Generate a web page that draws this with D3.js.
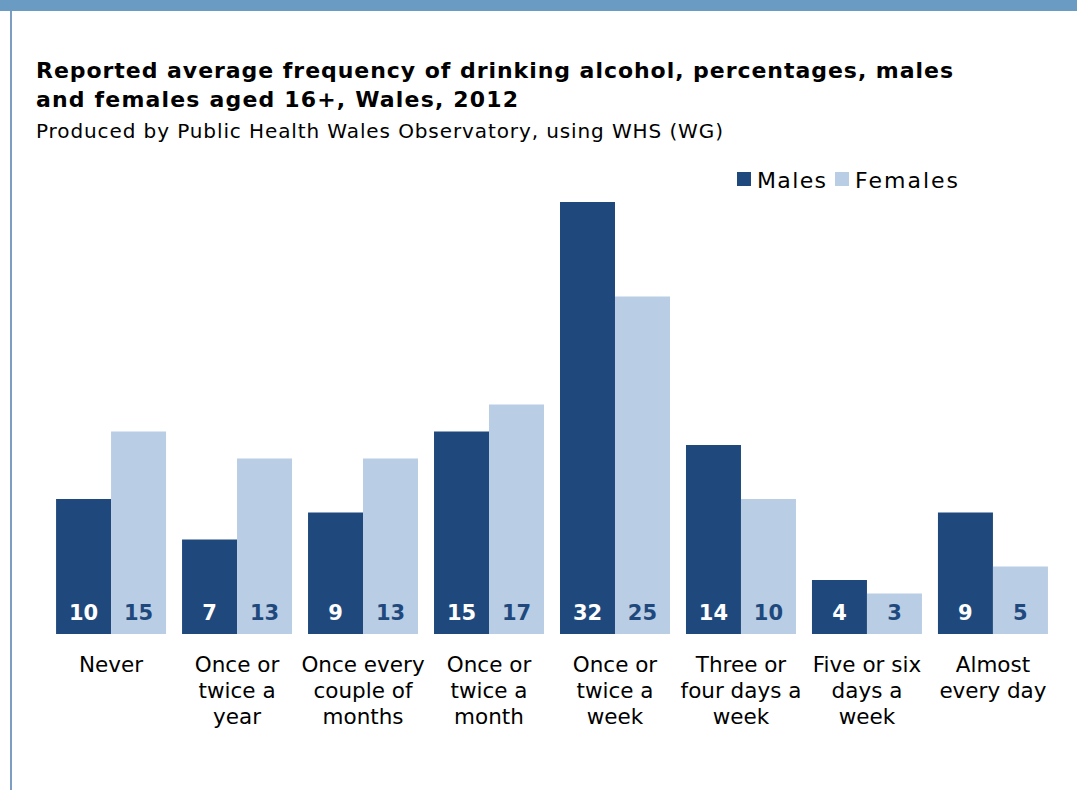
<!DOCTYPE html>
<html>
<head>
<meta charset="utf-8">
<script src="https://cdn.jsdelivr.net/npm/d3@7"></script>
<style>
  html, body { margin: 0; padding: 0; background: #ffffff; }
  svg { display: block; font-family: "DejaVu Sans", Verdana, sans-serif; }
</style>
</head>
<body>
<svg id="chart" width="1077" height="790"></svg>
<script>
// Drinking frequency categories (each label split into its display lines)
const categories = [
  ["Never"],
  ["Once or", "twice a", "year"],
  ["Once every", "couple of", "months"],
  ["Once or", "twice a", "month"],
  ["Once or", "twice a", "week"],
  ["Three or", "four days a", "week"],
  ["Five or six", "days a", "week"],
  ["Almost", "every day"]
];
const males = [10, 7, 9, 15, 32, 14, 4, 9];
const females = [15, 13, 13, 17, 25, 10, 3, 5];
const seriesNames = ["Males", "Females"];

const colors = { Males: "#1f497d", Females: "#b9cde5" };
const labelColors = { Males: "#ffffff", Females: "#1f497d" };

const svg = d3.select("#chart");
const W = 1077, H = 790;

// frame: top band and left rule
svg.append("rect").attr("x", 0).attr("y", 0).attr("width", W).attr("height", 11).attr("fill", "#6a9bc3");
svg.append("rect").attr("x", 10).attr("y", 11).attr("width", 2).attr("height", H - 11).attr("fill", "#7c9ec2");

// titles
svg.append("text").attr("x", 36).attr("y", 78)
  .attr("font-size", 22).attr("font-weight", "bold").attr("fill", "#000")
  .attr("textLength", 917).attr("lengthAdjust", "spacing")
  .text("Reported average frequency of drinking alcohol, percentages, males");
svg.append("text").attr("x", 36).attr("y", 107)
  .attr("font-size", 22).attr("font-weight", "bold").attr("fill", "#000")
  .attr("textLength", 482).attr("lengthAdjust", "spacing")
  .text("and females aged 16+, Wales, 2012");
svg.append("text").attr("x", 36).attr("y", 138)
  .attr("font-size", 20).attr("fill", "#000")
  .attr("textLength", 687).attr("lengthAdjust", "spacing")
  .text("Produced by Public Health Wales Observatory, using WHS (WG)");

// scales
const baseY = 634;
const x0 = d3.scaleBand().domain(d3.range(categories.length)).range([48, 1056]).paddingInner(0.127).paddingOuter(0.064);
const x1 = d3.scaleBand().domain(seriesNames).range([0, x0.bandwidth()]);
const y = d3.scaleLinear().domain([0, 32]).range([baseY, baseY - 432]);

const rows = categories.map((c, i) => ({ i, Males: males[i], Females: females[i] }));

const groups = svg.append("g").selectAll("g").data(rows).join("g")
  .attr("transform", d => `translate(${x0(d.i)},0)`);

groups.selectAll("rect").data(d => seriesNames.map(k => ({ k, v: d[k] }))).join("rect")
  .attr("x", d => x1(d.k)).attr("width", x1.bandwidth())
  .attr("y", d => y(d.v)).attr("height", d => y(0) - y(d.v))
  .attr("fill", d => colors[d.k]);

groups.selectAll("text.val").data(d => seriesNames.map(k => ({ k, v: d[k] }))).join("text")
  .attr("class", "val")
  .attr("x", d => x1(d.k) + x1.bandwidth() / 2).attr("y", baseY - 14)
  .attr("text-anchor", "middle").attr("font-size", 21).attr("font-weight", "bold")
  .attr("fill", d => labelColors[d.k])
  .text(d => d.v);

// category labels
const xAxis = svg.append("g").attr("transform", `translate(0,${baseY})`)
  .call(d3.axisBottom(x0).tickSize(0).tickFormat(""));
xAxis.select(".domain").remove();
xAxis.selectAll(".tick").each(function(d) {
  const t = d3.select(this).append("text")
    .attr("text-anchor", "middle").attr("font-size", 21.5).attr("fill", "#000")
    .attr("font-family", "DejaVu Sans, Verdana, sans-serif");
  categories[d].forEach((line, j) => {
    t.append("tspan").attr("x", 0).attr("y", 38 + j * 26).text(line);
  });
});

// legend
const legend = svg.append("g");
const legendItems = [{ k: "Males", x: 737, w: 69 }, { k: "Females", x: 835, w: 103 }];
legendItems.forEach(it => {
  legend.append("rect").attr("x", it.x).attr("y", 172).attr("width", 14).attr("height", 14).attr("fill", colors[it.k]);
  legend.append("text").attr("x", it.x + 20).attr("y", 188).attr("font-size", 22).attr("fill", "#000")
    .attr("textLength", it.w).attr("lengthAdjust", "spacing").text(it.k);
});
</script>
</body>
</html>
